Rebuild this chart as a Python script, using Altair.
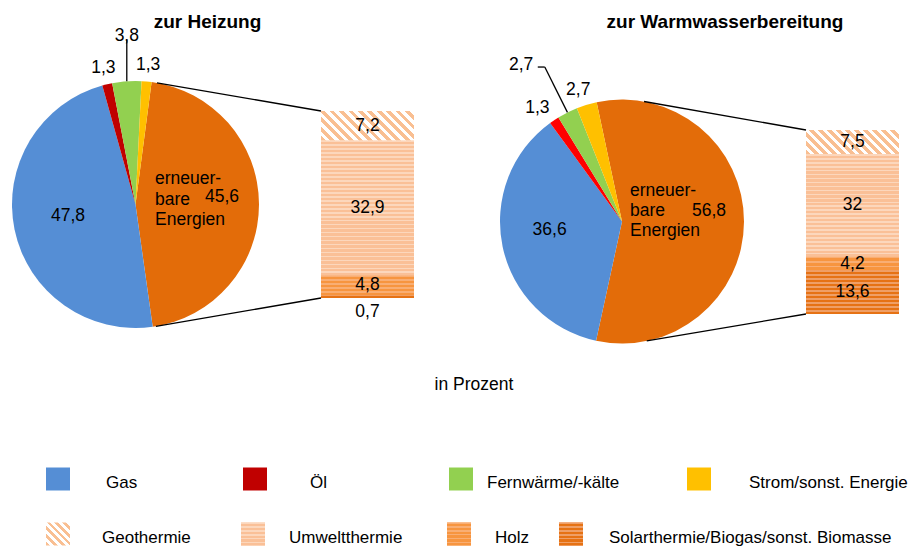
import math
import altair as alt
import pandas as pd

# ---------------- data ----------------
pie_categories = ["erneuerbare Energien", "Gas", "Öl", "Fernwärme/-kälte", "Strom/sonst. Energie"]
heizung_pie = [45.6, 47.8, 1.3, 3.8, 1.3]
warmwasser_pie = [56.8, 36.6, 1.3, 2.7, 2.7]
renewable_label = "erneuer-\nbare\nEnergien"

bar_categories = ["Geothermie", "Umweltthermie", "Holz", "Solarthermie/Biogas/sonst. Biomasse"]
heizung_bar = [7.2, 32.9, 4.8, 0.7]
warmwasser_bar = [7.5, 32.0, 4.2, 13.6]

titles = ["zur Heizung", "zur Warmwasserbereitung"]
unit_note = "in Prozent"
legend_labels = ["Gas", "Öl", "Fernwärme/-kälte", "Strom/sonst. Energie",
                 "Geothermie", "Umweltthermie", "Holz", "Solarthermie/Biogas/sonst. Biomasse"]

# ---------------- style / layout ----------------
W, H = 902, 538
FONT = "Liberation Sans"
LBL = 17.5
RENEW_C, GAS_C, FERN_C, STROM_C = "#E36C09", "#558ED5", "#92D050", "#FFC000"
OIL_LEFT, OIL_RIGHT = "#C00000", "#FF0000"
GEO_STRIPE = "#F9BF92"
# (base colour, line colour, period px, line fraction) for the dotted patterns
PATTERNS = {
    "Umweltthermie": ("#FAC097", "#FCD7BC", 4.0, 0.4),
    "Holz": ("#F7953F", "#F9AE73", 4.0, 0.35),
    "Solarthermie/Biogas/sonst. Biomasse": ("#E67214", "#EF9F66", 4.0, 0.4),
}
BAR_COLORS = ["#FFFFFF", "#FACBA6", "#F8A05A", "#EA8340"]
LEGEND_COLORS = [GAS_C, OIL_LEFT, FERN_C, STROM_C, "#FFFFFF", "#FACBA6", "#F8A05A", "#EA8340"]

PANELS = [
    dict(values=heizung_pie, bar=heizung_bar, oil=OIL_LEFT, cx=127.5, cy=196.5, R=123.5, start=7.5,
         box=(313, 406, 103, 290), connect=(10.0, 170.5), title_x=199.5,
         radial={"Gas": (69, 0, -3), "Öl": (140, 0, 0), "Strom/sonst. Energie": (140, 0, 0)},
         name_r=19.5, name_dy=-4.5, val_r=69.5, val_dy=-7.5, lh=20.5,
         leader=("Fernwärme/-kälte", "vertical", 41)),
    dict(values=warmwasser_pie, bar=warmwasser_bar, oil=OIL_RIGHT, cx=614, cy=213.5, R=122, start=-12.0,
         box=(798, 891, 122, 306), connect=(10.4, 168.3), title_x=717,
         radial={"Gas": (74, 0, -7), "Öl": (138, -8, 1), "Strom/sonst. Energie": (137, -4, 0)},
         name_r=8, name_dy=-10.5, val_r=70, val_dy=-10.5, lh=20,
         leader=("Fernwärme/-kälte", "elbow", 50.7)),
]

LEG_SW_X = [38, 235, 441, 679, 38, 233, 439, 551]
LEG_LB_X = [98, 302, 479, 741, 94, 281, 487, 601]
LEG_ROW_Y = [471, 526]
SW_W, SW_H = 24, 23


def de(v):
    return f"{v:g}".replace(".", ",")


def stripe_fill(w, h, period, c_on, c_off):
    n = max(1, round((w + h) / math.sqrt(2) / period))
    k = (w + h) / (w * w + h * h)
    stops = []
    for i in range(n):
        a, b, c = i / n, (i + 0.5) / n, (i + 1) / n
        stops += [{"offset": a, "color": c_on}, {"offset": b, "color": c_on},
                  {"offset": b, "color": c_off}, {"offset": c, "color": c_off}]
    return {"gradient": "linear", "x1": 0, "y1": 1, "x2": w * k, "y2": 1 - h * k, "stops": stops}


def hstripe_fill(h, pattern):
    base, line, period, frac = pattern
    n = max(1, round(h / period))
    stops = []
    for i in range(n):
        a = i / n
        b = (i + frac) / n
        c = (i + 1) / n
        stops += [{"offset": a, "color": line}, {"offset": b, "color": line},
                  {"offset": b, "color": base}, {"offset": c, "color": base}]
    return {"gradient": "linear", "x1": 0, "y1": 0, "x2": 0, "y2": 1, "stops": stops}


def pie_frame(values):
    total = sum(values)
    rows, cum = [], 0.0
    for cat, v in zip(pie_categories, values):
        s = cum / total
        cum += v
        e = cum / total
        rows.append(dict(cat=cat, value=v, label=de(v), start=s, end=e, mid=(s + e) / 2,
                         name=renewable_label if cat == pie_categories[0] else cat))
    return pd.DataFrame(rows)


def bar_frame(values):
    total = sum(values)
    rows, cum = [], 0.0
    for cat, v in zip(bar_categories, values):
        s = cum / total
        cum += v
        e = cum / total
        rows.append(dict(cat=cat, value=v, label=de(v), y0=s, y1=e, ymid=(s + e) / 2))
    return pd.DataFrame(rows)


def edge(p, deg, r):
    a = math.radians(deg)
    return p["cx"] + r * math.sin(a), p["cy"] - r * math.cos(a)


layers = []
segments = []
txt = dict(font=FONT, fontSize=LBL, color="black")

for i, p in enumerate(PANELS):
    df = pie_frame(p["values"])
    a0 = math.radians(p["start"])
    tscale = alt.Scale(domain=[0, 1], range=[a0, a0 + 2 * math.pi])
    base = alt.Chart(df)
    center = dict(x=alt.value(p["cx"]), y=alt.value(p["cy"]))
    layers.append(base.mark_arc().encode(
        theta=alt.Theta("start:Q", scale=tscale, stack=False), theta2="end:Q",
        color=alt.Color("cat:N", scale=alt.Scale(domain=pie_categories,
                        range=[RENEW_C, GAS_C, p["oil"], FERN_C, STROM_C]), legend=None),
        radius=alt.value(p["R"]), **center))
    # radial value labels
    for cat, (r, dx, dy) in p["radial"].items():
        layers.append(base.transform_filter(alt.datum.cat == cat).mark_text(
            align="center", baseline="middle", dx=dx, dy=dy, **txt).encode(
            theta=alt.Theta("mid:Q", scale=tscale, stack=False), radius=alt.value(r),
            text="label:N", **center))
    ren = alt.datum.cat == pie_categories[0]
    layers.append(base.transform_filter(ren).mark_text(
        align="left", baseline="middle", dy=p["name_dy"] - p["lh"], lineBreak="\n",
        lineHeight=p["lh"], **txt).encode(
        theta=alt.Theta("mid:Q", scale=tscale, stack=False), radius=alt.value(p["name_r"]),
        text="name:N", **center))
    layers.append(base.transform_filter(ren).mark_text(
        align="left", baseline="middle", dy=p["val_dy"], **txt).encode(
        theta=alt.Theta("mid:Q", scale=tscale, stack=False), radius=alt.value(p["val_r"]),
        text="label:N", **center))
    # leader label
    lcat, kind, llen = p["leader"]
    row = df[df.cat == lcat].iloc[0]
    mid_deg = p["start"] + row["mid"] * 360
    ex, ey = edge(p, mid_deg, p["R"])
    if kind == "vertical":
        segments.append(dict(x=ex, y=ey, x2=ex, y2=ey - llen))
        tx, ty, talign, tbase = ex, ey - llen + 1, "center", "alphabetic"
    else:
        kx, ky = edge(p, mid_deg, p["R"] + llen)
        segments.append(dict(x=ex, y=ey, x2=kx, y2=ky))
        segments.append(dict(x=kx, y=ky, x2=kx - 7, y2=ky))
        tx, ty, talign, tbase = kx - 11.5, ky - 2, "right", "middle"
    layers.append(alt.Chart(pd.DataFrame({"t": [row["label"]]})).mark_text(
        align=talign, baseline=tbase, **txt).encode(text="t:N", x=alt.value(tx), y=alt.value(ty)))

    # bar of pie
    bdf = bar_frame(p["bar"])
    x0, x1, top, bottom = p["box"]
    yscale = alt.Scale(domain=[0, 1], range=[top, bottom])
    bbase = alt.Chart(bdf)
    benc = dict(x=alt.value(x0), x2=alt.value(x1),
                y=alt.Y("y0:Q", scale=yscale, axis=None), y2="y1:Q")
    layers.append(bbase.mark_rect().encode(
        color=alt.Color("cat:N", scale=alt.Scale(domain=bar_categories, range=BAR_COLORS), legend=None),
        **benc))
    for _, seg in bdf.iterrows():
        sh = (seg["y1"] - seg["y0"]) * (bottom - top)
        if seg["cat"] == "Geothermie":
            fill = stripe_fill(x1 - x0, sh, 6.5, GEO_STRIPE, "#FFFFFF")
        else:
            fill = hstripe_fill(sh, PATTERNS[seg["cat"]])
        layers.append(bbase.transform_filter(alt.datum.cat == seg["cat"]).mark_rect(
            fill=fill).encode(**benc))
    layers.append(bbase.transform_filter(alt.datum.value >= 2).mark_text(
        align="center", baseline="middle", **txt).encode(
        x=alt.value((x0 + x1) / 2), y=alt.Y("ymid:Q", scale=yscale, axis=None), text="label:N"))
    layers.append(bbase.transform_filter(alt.datum.value < 2).mark_text(
        align="center", baseline="middle", dy=14, **txt).encode(
        x=alt.value((x0 + x1) / 2), y=alt.Y("y1:Q", scale=yscale, axis=None), text="label:N"))
    # connectors
    c1 = edge(p, p["connect"][0], p["R"])
    c2 = edge(p, p["connect"][1], p["R"])
    segments.append(dict(x=c1[0], y=c1[1], x2=x0, y2=top))
    segments.append(dict(x=c2[0], y=c2[1], x2=x0, y2=bottom))

    # title
    layers.append(alt.Chart(pd.DataFrame({"t": [titles[i]]})).mark_text(
        align="center", baseline="alphabetic", font=FONT, fontSize=19, fontWeight="bold",
        color="black").encode(text="t:N", x=alt.value(p["title_x"]), y=alt.value(20)))

layers.append(alt.Chart(pd.DataFrame(segments)).mark_rule(color="black", strokeWidth=1.3).encode(
    x=alt.X("x:Q", scale=None, axis=None), y=alt.Y("y:Q", scale=None, axis=None),
    x2="x2:Q", y2="y2:Q"))

layers.append(alt.Chart(pd.DataFrame({"t": [unit_note]})).mark_text(
    align="center", baseline="middle", **txt).encode(text="t:N", x=alt.value(466), y=alt.value(377)))

# legend
leg = pd.DataFrame({
    "label": legend_labels,
    "sx": LEG_SW_X, "sx2": [v + SW_W for v in LEG_SW_X],
    "sy": [LEG_ROW_Y[k // 4] - SW_H / 2 for k in range(8)],
    "sy2": [LEG_ROW_Y[k // 4] + SW_H / 2 for k in range(8)],
    "lx": LEG_LB_X, "ly": [LEG_ROW_Y[k // 4] + 4 for k in range(8)],
})
lbase = alt.Chart(leg)
sw_enc = dict(x=alt.X("sx:Q", scale=None, axis=None), x2="sx2:Q",
              y=alt.Y("sy:Q", scale=None, axis=None), y2="sy2:Q")
layers.append(lbase.mark_rect().encode(
    color=alt.Color("label:N", scale=alt.Scale(domain=legend_labels, range=LEGEND_COLORS), legend=None),
    **sw_enc))
layers.append(lbase.transform_filter(alt.datum.label == "Geothermie").mark_rect(
    fill=stripe_fill(SW_W, SW_H, 6.0, GEO_STRIPE, "#FFFFFF")).encode(**sw_enc))
for name, pat in PATTERNS.items():
    layers.append(lbase.transform_filter(alt.datum.label == name).mark_rect(
        fill=hstripe_fill(SW_H, pat)).encode(**sw_enc))
layers.append(lbase.mark_text(align="left", baseline="middle", font=FONT, fontSize=17, color="black").encode(
    x=alt.X("lx:Q", scale=None, axis=None), y=alt.Y("ly:Q", scale=None, axis=None), text="label:N"))

chart = alt.layer(*layers).resolve_scale(
    theta="independent", y="independent", x="independent", color="independent"
).properties(width=W, height=H, padding=0, autosize="none").configure_view(stroke=None)

chart.save("out.html", embed_options={"renderer": "svg", "actions": False})
